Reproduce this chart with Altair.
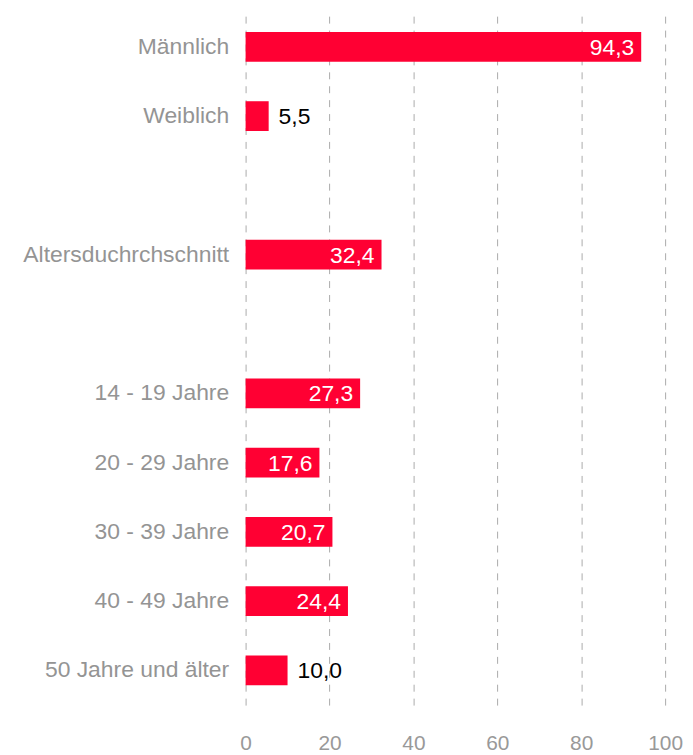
import altair as alt
import pandas as pd

categories = ["Männlich", "Weiblich", " ", "Altersduchrchschnitt", "  ",
              "14 - 19 Jahre", "20 - 29 Jahre", "30 - 39 Jahre", "40 - 49 Jahre",
              "50 Jahre und älter"]
values = [94.3, 5.5, None, 32.4, None, 27.3, 17.6, 20.7, 24.4, 10.0]
x_ticks = [0, 20, 40, 60, 80, 100]

rows = []
for c, v in zip(categories, values):
    if v is None:
        continue
    rows.append({"cat": c, "value": v,
                 "label": f"{v:.1f}".replace(".", ","),
                 "inside": v > 12})
df = pd.DataFrame(rows)

FONT = "Liberation Sans"
RED = "#FF0033"

y = alt.Y("cat:N", sort=categories, scale=alt.Scale(domain=categories, paddingInner=0.57, paddingOuter=0.285),
          axis=alt.Axis(title=None, domain=False, ticks=False, labelColor="#949494",
                        labelFontSize=23, labelFont=FONT, labelPadding=17, grid=False,
                        labelLimit=400))
x = alt.X("value:Q", scale=alt.Scale(domain=[0, 100]),
          axis=alt.Axis(title=None, values=x_ticks, domain=False, ticks=False,
                        labelColor="#999999", labelFontSize=21, labelFont=FONT,
                        labelPadding=28, labelFlush=False, grid=True, gridColor="#aaaaaa",
                        gridDash=[7, 7], gridWidth=1))

base = alt.Chart(df)
bars = base.mark_bar(color=RED).encode(x=x, y=y)
inside = base.transform_filter("datum.inside").mark_text(
    align="right", baseline="middle", dx=-7, dy=1, color="white", fontSize=23, font=FONT
).encode(x="value:Q", y=alt.Y("cat:N", sort=categories), text="label:N")
outside = base.transform_filter("!datum.inside").mark_text(
    align="left", baseline="middle", dx=10, dy=1, color="black", fontSize=23, font=FONT
).encode(x="value:Q", y=alt.Y("cat:N", sort=categories), text="label:N")

chart = (bars + inside + outside).properties(
    width=422, height=697,
    autosize=alt.AutoSizeParams(type="none"),
    padding={"left": 239, "top": 2, "right": 20, "bottom": 50},
).configure_view(stroke=None)

chart.save("out.html", embed_options={"renderer": "svg", "actions": False})
